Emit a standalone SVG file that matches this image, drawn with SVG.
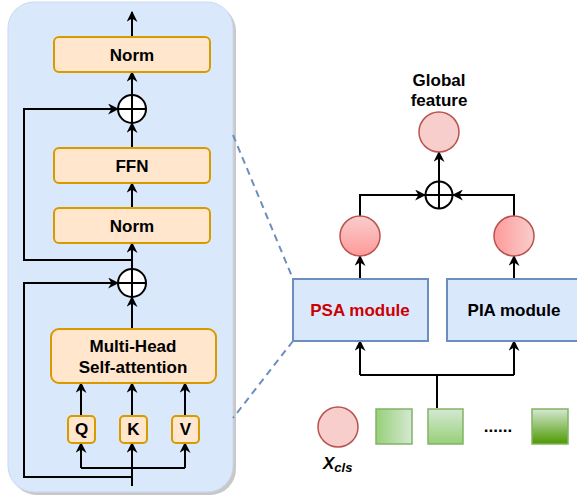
<svg xmlns="http://www.w3.org/2000/svg" width="577" height="499" viewBox="0 0 577 499">
<style>
.t{font-family:"Liberation Sans",Arial,sans-serif;font-weight:bold;font-size:17px;text-anchor:middle;fill:#000}
.box{fill:#ffe6cc;stroke:#d79b00;stroke-width:2}
.ln{fill:none;stroke:#000;stroke-width:2}
.pl{fill:#fff;stroke:#000;stroke-width:2}
.mod{fill:#dae8fc;stroke:#6c8ebf;stroke-width:2}
.rc{stroke:#b85450;stroke-width:1.5}
.gs{stroke:#82b366;stroke-width:1.5}
.dash{fill:none;stroke:#6c8ebf;stroke-width:2;stroke-dasharray:7 5}
</style>
<defs>
<marker id="ah" viewBox="0 0 10 10" refX="9" refY="5" markerWidth="5.5" markerHeight="5.5" orient="auto" markerUnits="strokeWidth">
<path d="M0,0 L10,5 L0,10 L3,5 Z" fill="#000"/>
</marker>
<linearGradient id="gv" x1="0" y1="0" x2="0" y2="1"><stop offset="0" stop-color="#f8cecc"/><stop offset="1" stop-color="#ff9a9a"/></linearGradient>
<linearGradient id="gh" x1="0" y1="0" x2="1" y2="0"><stop offset="0" stop-color="#ff9a9a"/><stop offset="1" stop-color="#f8cecc"/></linearGradient>
<linearGradient id="g1" x1="0" y1="0" x2="1" y2="0"><stop offset="0" stop-color="#97d077"/><stop offset="1" stop-color="#d5e8d4"/></linearGradient>
<linearGradient id="g2" x1="0" y1="0" x2="0" y2="1"><stop offset="0" stop-color="#d5e8d4"/><stop offset="1" stop-color="#97d077"/></linearGradient>
<linearGradient id="g3" x1="0" y1="0" x2="0" y2="1"><stop offset="0" stop-color="#d5e8d4"/><stop offset="1" stop-color="#4d9900"/></linearGradient>
</defs>
<rect width="577" height="499" fill="#fff"/>
<g id="panel">
<rect x="11" y="5" width="225" height="490" rx="26" fill="#c8c8c8"/>
<rect x="8" y="2" width="225" height="490" rx="26" fill="#dae8fc" stroke="#c9d9ef" stroke-width="1"/>
</g>
<g id="connectors">
<path class="dash" d="M233,135 L293,279"/>
<path class="dash" d="M293,341 L233,418"/>
<path class="ln" d="M132,37 L132,12" marker-end="url(#ah)"/>
<path class="ln" d="M132,95 L132,72" marker-end="url(#ah)"/>
<path class="ln" d="M132,148 L132,123" marker-end="url(#ah)"/>
<path class="ln" d="M132,208 L132,183" marker-end="url(#ah)"/>
<path class="ln" d="M132,269 L132,243" marker-end="url(#ah)"/>
<path class="ln" d="M132,260 L24,260 L24,109 L118,109" marker-end="url(#ah)"/>
<path class="ln" d="M132,329 L132,297" marker-end="url(#ah)"/>
<path class="ln" d="M132,477 L24,477 L24,283 L118,283" marker-end="url(#ah)"/>
<path class="ln" d="M132,486 L132,443" marker-end="url(#ah)"/>
<path class="ln" d="M81,468 L185,468"/>
<path class="ln" d="M81,468 L81,443" marker-end="url(#ah)"/>
<path class="ln" d="M185,468 L185,443" marker-end="url(#ah)"/>
<path class="ln" d="M81,416 L81,383" marker-end="url(#ah)"/>
<path class="ln" d="M132,416 L132,383" marker-end="url(#ah)"/>
<path class="ln" d="M185,416 L185,383" marker-end="url(#ah)"/>
<path class="ln" d="M439,181 L439,152" marker-end="url(#ah)"/>
<path class="ln" d="M360,216 L360,195 L425,195" marker-end="url(#ah)"/>
<path class="ln" d="M514,216 L514,195 L453,195" marker-end="url(#ah)"/>
<path class="ln" d="M360,279 L360,256" marker-end="url(#ah)"/>
<path class="ln" d="M514,279 L514,256" marker-end="url(#ah)"/>
<path class="ln" d="M437,408 L437,375"/>
<path class="ln" d="M360,375 L514,375"/>
<path class="ln" d="M360,375 L360,341" marker-end="url(#ah)"/>
<path class="ln" d="M514,375 L514,341" marker-end="url(#ah)"/>
</g>
<g id="norm-top"><rect class="box" x="54" y="37" width="156" height="35" rx="5"/><text class="t" x="132" y="61">Norm</text></g>
<g id="add-top"><circle class="pl" cx="132" cy="109" r="14"/><path class="ln" d="M118,109 H146 M132,95 V123"/></g>
<g id="ffn"><rect class="box" x="54" y="148" width="156" height="35" rx="5"/><text class="t" x="132" y="172">FFN</text></g>
<g id="norm-bottom"><rect class="box" x="54" y="208" width="156" height="35" rx="5"/><text class="t" x="132" y="232">Norm</text></g>
<g id="add-bottom"><circle class="pl" cx="132" cy="283" r="14"/><path class="ln" d="M118,283 H146 M132,269 V297"/></g>
<g id="mhsa"><rect class="box" x="51" y="329" width="165" height="54" rx="8"/><text class="t" x="133" y="352">Multi-Head</text><text class="t" x="133" y="373">Self-attention</text></g>
<g id="q"><rect class="box" x="68" y="416" width="27" height="27" rx="4"/><text class="t" x="81.5" y="435">Q</text></g>
<g id="k"><rect class="box" x="120" y="416" width="27" height="27" rx="4"/><text class="t" x="133.5" y="435">K</text></g>
<g id="v"><rect class="box" x="172" y="416" width="27" height="27" rx="4"/><text class="t" x="185.5" y="435">V</text></g>
<g id="global-label"><text class="t" x="439" y="86">Global</text><text class="t" x="439" y="106">feature</text></g>
<g id="global-feature"><circle class="rc" cx="439" cy="132" r="20" fill="#f8cecc"/></g>
<g id="add-right"><circle class="pl" cx="439" cy="195" r="13.5"/><path class="ln" d="M425.5,195 H452.5 M439,181.5 V208.5"/></g>
<g id="psa-out"><circle class="rc" cx="360" cy="236" r="20" fill="url(#gv)"/></g>
<g id="pia-out"><circle class="rc" cx="514" cy="236" r="20" fill="url(#gh)"/></g>
<g id="psa"><rect class="mod" x="293" y="279" width="135" height="62"/><text class="t" x="360" y="316" style="fill:#cc0000">PSA module</text></g>
<g id="pia"><rect class="mod" x="447" y="279" width="135" height="62"/><text class="t" x="514" y="316">PIA module</text></g>
<g id="xcls"><circle class="rc" cx="338" cy="427" r="20" fill="#f8cecc"/><text class="t" x="323" y="469" style="font-style:italic;font-size:17px;text-anchor:start">X<tspan font-size="13" dy="3">cls</tspan></text></g>
<g id="token1"><rect class="gs" x="376" y="409" width="36" height="35" fill="url(#g1)"/></g>
<g id="token2"><rect class="gs" x="428" y="409" width="35" height="35" fill="url(#g2)"/></g>
<g id="dots"><text class="t" x="498" y="432">......</text></g>
<g id="token3"><rect class="gs" x="532" y="409" width="36" height="35" fill="url(#g3)"/></g>
</svg>
